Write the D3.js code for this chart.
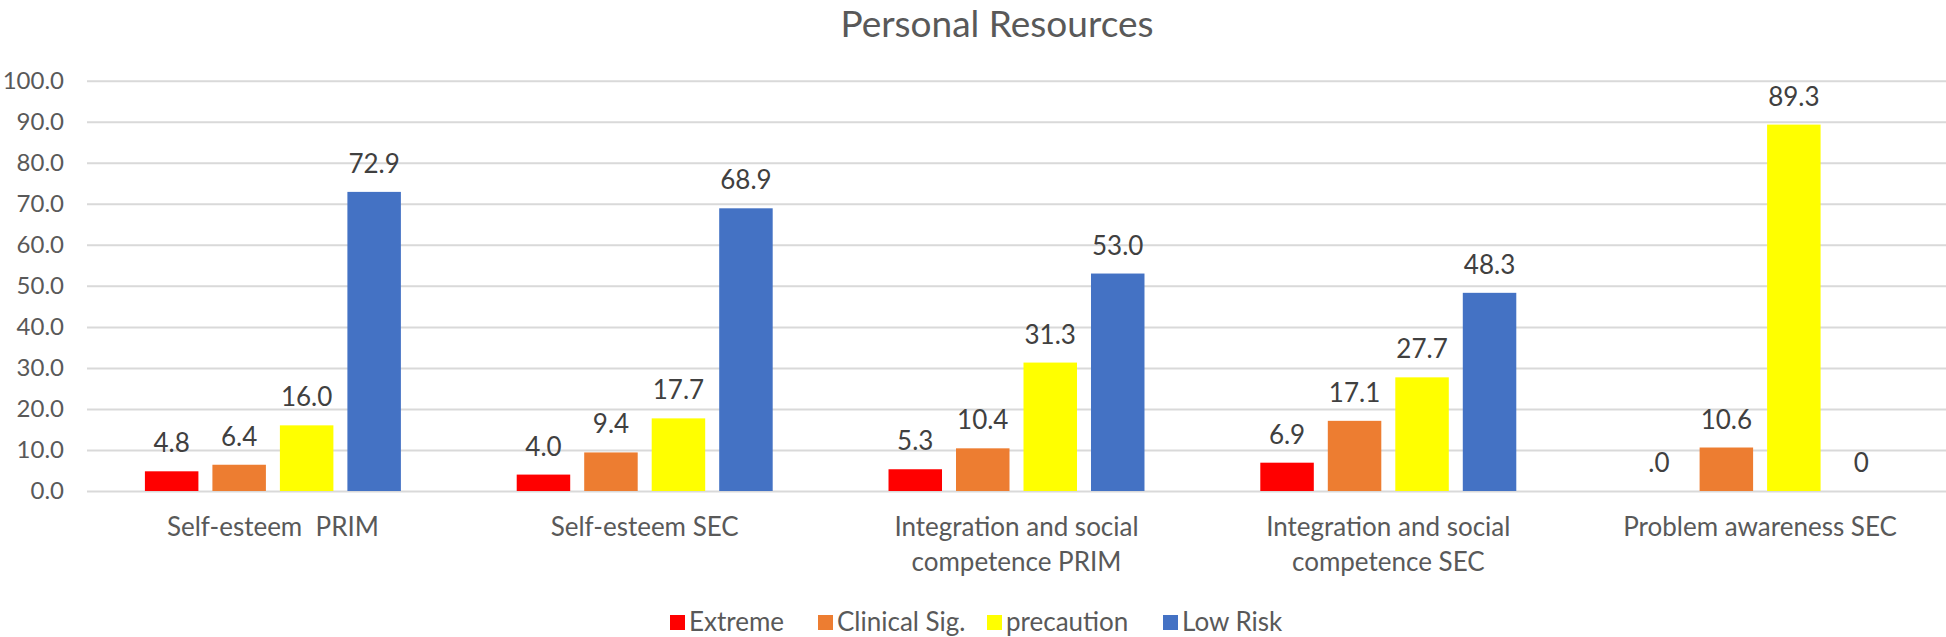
<!DOCTYPE html>
<html>
<head>
<meta charset="utf-8">
<script src="https://cdn.jsdelivr.net/npm/d3@7"></script>
<style>
  html, body { margin: 0; padding: 0; background: #fff; }
  svg { display: block; }
  text { font-family: Lato, "Open Sans", sans-serif; white-space: pre; }
</style>
</head>
<body>
<script>
// ---- data ----
const title = "Personal Resources";
const categories = ["Self-esteem  PRIM", "Self-esteem SEC", "Integration and social competence PRIM", "Integration and social competence SEC", "Problem awareness SEC"];
const categoryLines = [["Self-esteem  PRIM"], ["Self-esteem SEC"], ["Integration and social", "competence PRIM"], ["Integration and social", "competence SEC"], ["Problem awareness SEC"]];
const seriesNames = ["Extreme", "Clinical Sig.", "precaution", "Low Risk"];
const extreme    = [4.8, 4.0, 5.3, 6.9, 0];
const clinical   = [6.4, 9.4, 10.4, 17.1, 10.6];
const precaution = [16.0, 17.7, 31.3, 27.7, 89.3];
const lowRisk    = [72.9, 68.9, 53.0, 48.3, 0];
const extremeLabels    = ["4.8", "4.0", "5.3", "6.9", ".0"];
const clinicalLabels   = ["6.4", "9.4", "10.4", "17.1", "10.6"];
const precautionLabels = ["16.0", "17.7", "31.3", "27.7", "89.3"];
const lowRiskLabels    = ["72.9", "68.9", "53.0", "48.3", "0"];
const yTicks = [0, 10, 20, 30, 40, 50, 60, 70, 80, 90, 100];

const seriesValues = [extreme, clinical, precaution, lowRisk];
const seriesLabels = [extremeLabels, clinicalLabels, precautionLabels, lowRiskLabels];
const colors = ["#FF0000", "#ED7D31", "#FFFF00", "#4472C4"];

// ---- layout ----
const W = 1946, H = 637;
const svg = d3.select("body").append("svg").attr("width", W).attr("height", H);

const x0 = d3.scaleBand().domain(categories).range([87, 1946]);
const x1 = d3.scaleBand().domain(seriesNames).range([0, x0.bandwidth()])
  .paddingInner(0.2074).paddingOuter(0.858);
const y = d3.scaleLinear().domain([0, 100]).range([491, 80.7]);

// title
svg.append("text").attr("x", 997).attr("y", 37).attr("text-anchor", "middle")
  .attr("font-size", 37).attr("fill", "#595959").text(title);

// y axis + gridlines
const yAxis = d3.axisLeft(y).tickValues(yTicks).tickFormat(d3.format(".1f"))
  .tickSize(-(1946 - 87)).tickPadding(23);
const gy = svg.append("g").attr("transform", "translate(87,0)").call(yAxis);
gy.select(".domain").remove();
gy.selectAll(".tick line").attr("stroke", "#D9D9D9").attr("stroke-width", 2);
gy.selectAll(".tick text").attr("font-size", 24).attr("fill", "#595959")
  .attr("font-family", "Lato, sans-serif");

// bars
const groups = svg.append("g").selectAll("g").data(categories).join("g")
  .attr("transform", d => `translate(${x0(d)},0)`);

groups.each(function(cat, ci) {
  const g = d3.select(this);
  seriesNames.forEach((s, si) => {
    const v = seriesValues[si][ci];
    if (v > 0) {
      g.append("rect")
        .attr("x", x1(s)).attr("width", x1.bandwidth())
        .attr("y", y(v)).attr("height", y(0) - y(v))
        .attr("fill", colors[si]);
    }
    g.append("text")
      .attr("x", x1(s) + x1.bandwidth() / 2)
      .attr("y", y(v) - 19)
      .attr("text-anchor", "middle")
      .attr("font-size", 26).attr("fill", "#404040")
      .text(seriesLabels[si][ci]);
  });
  const lines = categoryLines[ci];
  lines.forEach((ln, li) => {
    g.append("text")
      .attr("x", x0.bandwidth() / 2)
      .attr("y", 536 + li * 35)
      .attr("text-anchor", "middle")
      .attr("font-size", 26).attr("fill", "#595959")
      .text(ln);
  });
});

// legend
const legendX = [670, 818, 987, 1163];
const lg = svg.append("g");
seriesNames.forEach((s, i) => {
  lg.append("rect").attr("x", legendX[i]).attr("y", 615).attr("width", 15).attr("height", 15)
    .attr("fill", colors[i]);
  lg.append("text").attr("x", legendX[i] + 19).attr("y", 631)
    .attr("font-size", 26).attr("fill", "#595959").text(s);
});
</script>
</body>
</html>
